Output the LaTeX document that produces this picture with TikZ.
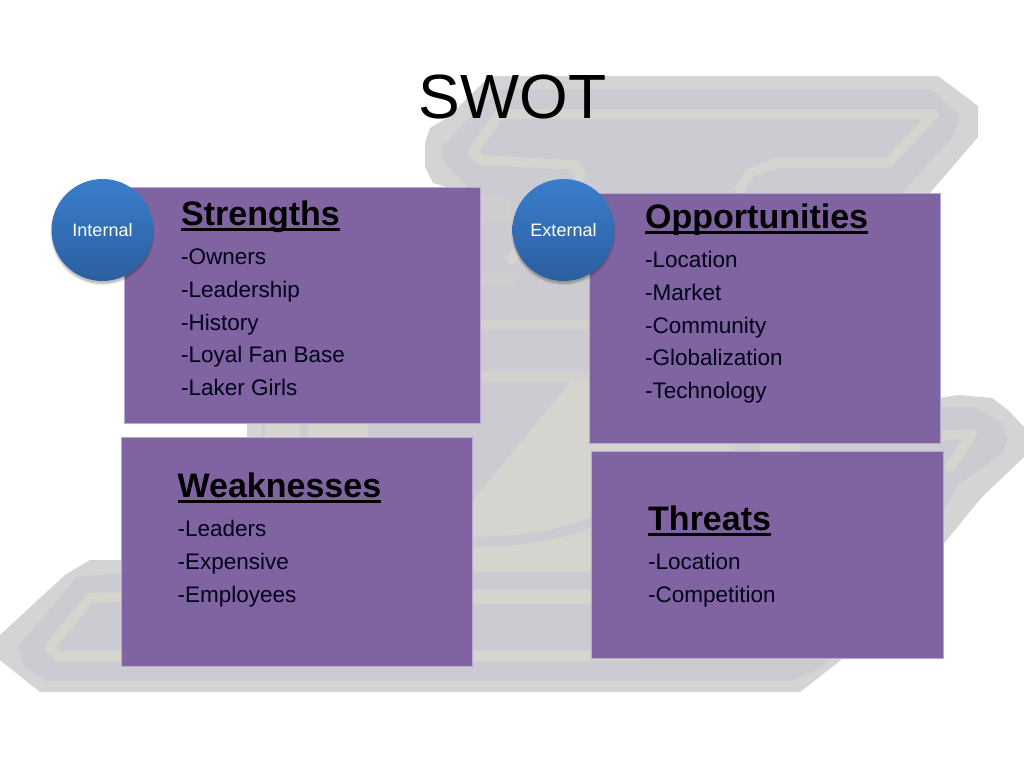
\documentclass[tikz,border=0pt]{standalone}
\usepackage{fontspec}
\setmainfont{Liberation Sans}
\newcommand{\ulhead}[1]{\leavevmode\setbox0=\hbox{\bfseries #1}\rlap{\copy0}\raisebox{-6pt}{\rule{\wd0}{2.7pt}}}
\definecolor{wmOuter}{HTML}{D4D4D4}
\definecolor{wmMid}{HTML}{CCCBD1}
\definecolor{wmBeige}{HTML}{D5D4CE}
\definecolor{boxPurple}{HTML}{8064A2}
\definecolor{boxEdge}{HTML}{B9A9CF}
\definecolor{ballTop}{HTML}{3A7DCC}
\definecolor{ballBot}{HTML}{2B5F9F}
\tikzset{
  purplebox/.style={fill=boxPurple,draw=boxEdge,line width=0.5pt,inner sep=0pt},
  headtext/.style={anchor=base west,inner sep=0pt,font=\fontsize{34}{38}\selectfont\bfseries},
  bodytext/.style={anchor=base west,inner sep=0pt,font=\fontsize{22.5}{26}\selectfont,text=black!90!blue},
  ball/.style={circle,minimum size=102pt,inner sep=0pt,top color=ballTop,bottom color=ballBot,text=white,font=\fontsize{18}{20}\selectfont},
  ballshadow/.style={circle,inner sep=0pt,fill=black,opacity=0.09},
  stripe/.style={draw=wmBeige,line width=10pt,line join=round,line cap=butt},
}
\begin{document}
\begin{tikzpicture}[x=1pt,y=-1pt]
\useasboundingbox (0,0) rectangle (1024,768);
\fill[white] (0,0) rectangle (1024,768);
% faded logo in the background
\fill[wmOuter] (490,76)--(938,76)--(978,106)--(978,137)--(930,193)--(940,398)--(958,395)--(992,398)--(1008,410)--(1024,427)--(1024,457)--(982,497)--(945,542)--(841,660)--(800,692)--(40,692)--(0,660)--(0,635)--(65,575)--(90,560)--(125,560)--(200,500)--(247,437)--(247,423)--(300,400)--(446,187)--(433,183)--(425,167)--(425,143)--(430,128)--(447,118)--cycle;
\fill[wmMid] (500,89)--(930,89)--(960,115)--(954,135)--(902,193)--(930,407)--(975,407)--(1002,423)--(1008,437)--(1002,453)--(958,485)--(943,510)--(823,667)--(790,681)--(47,681)--(25,668)--(18,647)--(77,577)--(125,573)--(200,520)--(262,437)--(262,423)--(320,400)--(468,187)--(444,163)--(442,148)--(460,127)--cycle;
\draw[stripe] (738,192)--(750,173)--(775,163)--(888,163)--(934,114)--(500,114)--(472,152)--(482,160)--(574,165)--(581,173)--(570,200)--(508,262);
\draw[stripe] (942,435)--(972,434)--(948,470);
\draw[stripe] (130,597)--(90,598)--(50,647)--(58,656)--(640,656);
\draw[stripe,line width=14pt] (472,597)--(640,597);
\draw[stripe,opacity=0.7] (472,325)--(600,325);
\draw[stripe,opacity=0.7] (472,377)--(600,377);
\draw[stripe,opacity=0.4] (472,278)--(515,278);
\fill[wmBeige,opacity=0.4] (480,197) rectangle (510,220);
\fill[wmBeige] (572,380)--(473,500)--(473,572)--(592,572)--(592,380)--cycle;
\fill[wmMid] (472,537) .. controls (520,537) and (560,530) .. (592,517)--(592,527) .. controls (560,540) and (520,547) .. (472,547)--cycle;
\fill[wmBeige] (265,423) rectangle (300,437);
\fill[wmBeige] (308,423) rectangle (368,437);
\fill[wmBeige] (592,443) rectangle (735,451);
\fill[wmBeige] (760,443) rectangle (800,451);
% boxes
\node[purplebox,minimum width=356pt,minimum height=236pt] (sbox) at (302,305) {};
\node[purplebox,minimum width=351pt,minimum height=250pt] (obox) at (764.5,318) {};
\node[purplebox,minimum width=351pt,minimum height=229pt] (wbox) at (296.5,551.5) {};
\node[purplebox,minimum width=352pt,minimum height=207pt] (tbox) at (767,554.5) {};
% title
\node[inner sep=0pt,anchor=base,font=\fontsize{62.5}{70}\selectfont] (title) at (512.5,118) {SWOT};
% Strengths
\node[headtext] (shead) at (181,225) {\ulhead{Strengths}};
\node[bodytext] (s1) at (181,264.5) {-Owners};
\node[bodytext] (s2) at (181,297.5) {-Leadership};
\node[bodytext] (s3) at (181,330) {-History};
\node[bodytext] (s4) at (181,362.5) {-Loyal Fan Base};
\node[bodytext] (s5) at (181,395.5) {-Laker Girls};
% Opportunities
\node[headtext] (ohead) at (645,228) {\ulhead{Opportunities}};
\node[bodytext] (o1) at (645,267.5) {-Location};
\node[bodytext] (o2) at (645,300.5) {-Market};
\node[bodytext] (o3) at (645,333) {-Community};
\node[bodytext] (o4) at (645,365.5) {-Globalization};
\node[bodytext] (o5) at (645,398.5) {-Technology};
% Weaknesses
\node[headtext] (whead) at (177.5,497) {\ulhead{Weaknesses}};
\node[bodytext] (w1) at (177.5,536.5) {-Leaders};
\node[bodytext] (w2) at (177.5,569) {-Expensive};
\node[bodytext] (w3) at (177.5,602) {-Employees};
% Threats
\node[headtext] (thead) at (648,530) {\ulhead{Threats}};
\node[bodytext] (t1) at (648,569.5) {-Location};
\node[bodytext] (t2) at (648,602) {-Competition};
% circles
\foreach \nm/\cx in {i/102.5,e/563.5}{
  \node[ballshadow,minimum size=100pt] (\nm shadowa) at (\cx,233) {};
  \node[ballshadow,minimum size=102pt] (\nm shadowb) at (\cx,233) {};
  \node[ballshadow,minimum size=104pt] (\nm shadowc) at (\cx,233) {};
}
\node[ball] (internal) at (102.5,230) {Internal};
\node[ball] (external) at (563.5,230) {External};
\end{tikzpicture}
\end{document}
